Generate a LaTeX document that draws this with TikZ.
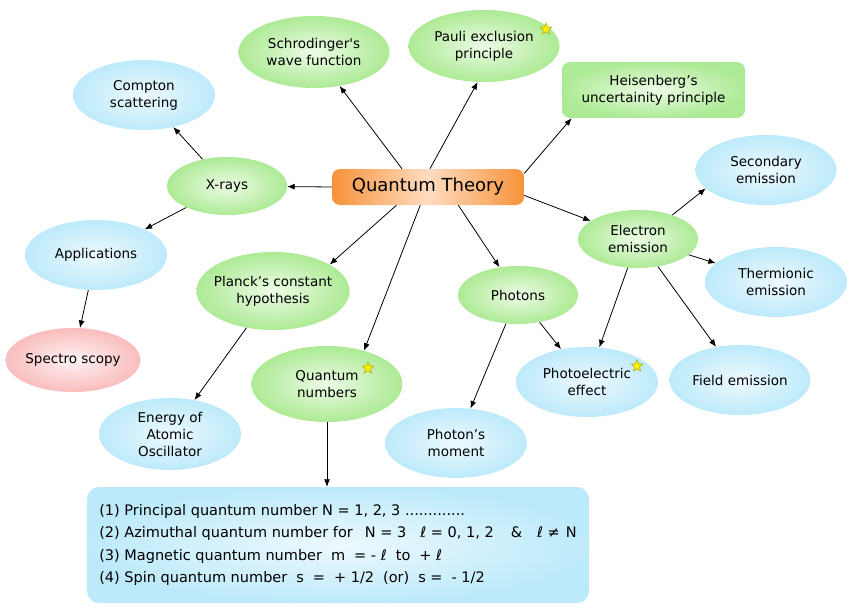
\documentclass[tikz,border=0pt]{standalone}
\usepackage{fontspec}
\setmainfont{DejaVu Sans}
\usetikzlibrary{positioning,arrows.meta,shapes.geometric}
\definecolor{GreenOut}{HTML}{ADEA95}
\definecolor{GreenIn}{HTML}{EDFCE6}
\definecolor{BlueOut}{HTML}{BDEAFA}
\definecolor{BlueIn}{HTML}{EDF9FE}
\definecolor{PinkOut}{HTML}{F9BDBD}
\definecolor{PinkIn}{HTML}{FFF2F2}
\definecolor{TheoryOut}{HTML}{F7923A}
\definecolor{TheoryIn}{HTML}{FFDCC0}
\definecolor{StarLine}{HTML}{A8A000}

\begin{document}
\begin{tikzpicture}[
  x=1pt,y=-1pt,
  font=\fontsize{13.5}{17}\selectfont,
  >=Latex,
  bubble/.style={ellipse,inner sep=0pt,align=center,minimum width=142pt,minimum height=70pt},
  greenbub/.style={bubble,inner color=GreenIn,outer color=GreenOut},
  bluebub/.style={bubble,inner color=BlueIn,outer color=BlueOut},
  pinkbub/.style={bubble,inner color=PinkIn,outer color=PinkOut},
  small/.style={minimum width=120pt,minimum height=58pt},
  large/.style={minimum width=151pt,minimum height=72pt},
  goldstar/.style={star,star points=5,star point ratio=2.2,draw=StarLine,line width=0.5pt,fill=yellow,minimum size=12pt,inner sep=0pt},
  flow/.style={-{Latex[length=7.5pt,width=6pt]},line width=0.8pt}
]
\useasboundingbox (0,0) rectangle (855,610);

% centre
\node[font=\fontsize{18}{20}\selectfont,rounded corners=8pt,minimum width=192pt,minimum height=36pt,
  left color=TheoryOut,right color=TheoryOut,middle color=TheoryIn] (theory) at (428,187) {Quantum Theory};

% upper branches
\node[greenbub,large] (schro) at (314,52) {Schrodinger\textquotesingle s\\wave function};
\node[greenbub,large] (pauli) at (484,46) {Pauli exclusion\\principle};
\node[rounded corners=8pt,minimum width=183pt,minimum height=56pt,align=center,
  inner color=GreenIn,outer color=GreenOut] (heisen) at (653.5,90) {Heisenberg’s\\uncertainity principle};

% X-rays side
\node[greenbub,small] (xrays) at (227,186) {X-rays};
\node[bluebub] (compton) at (144,95) {Compton\\scattering};
\node[bluebub] (applic) at (96,255) {Applications};
\node[pinkbub,minimum width=134pt,minimum height=64pt] (spectro) at (73,360) {Spectro scopy};

% lower branches
\node[greenbub,large,inner xsep=-5pt,minimum height=78pt] (planck) at (273,291) {Planck’s constant\\hypothesis};
\node[bluebub,minimum height=72pt] (energy) at (170,434) {Energy of\\Atomic\\Oscillator};
\node[greenbub,large,minimum height=76pt] (qnum) at (327,384) {Quantum\\numbers};
\node[greenbub,small] (photons) at (518,295) {Photons};
\node[bluebub] (moment) at (456,443) {Photon’s\\moment};
\node[bluebub] (photoel) at (587,382) {Photoelectric\\effect};

% electron emission
\node[greenbub,small] (elemis) at (638,239) {Electron\\emission};
\node[bluebub,minimum width=141pt] (second) at (766,170) {Secondary\\emission};
\node[bluebub] (thermi) at (776,282) {Thermionic\\emission};
\node[bluebub,minimum width=141pt] (field) at (740,380) {Field emission};

% stars
\node[goldstar] (starpauli) at (546,29) {};
\node[goldstar] (starqnum) at (368,368) {};
\node[goldstar] (starphoto) at (637,366) {};

% quantum numbers box
\node[rounded corners=12pt,minimum width=502pt,minimum height=116pt,inner sep=10pt,
  align=left,font=\fontsize{14.5}{22.3}\selectfont,
  inner color=BlueIn,outer color=BlueOut] (qbox) at (338,545)
  {(1) Principal quantum number N = 1, 2, 3 .............\\
   (2) Azimuthal quantum number for\hspace{12pt}N = 3\hspace{14pt}ℓ = 0, 1, 2\hspace{17pt}\&\hspace{15pt}ℓ ≠\hspace{6pt}N\\
   (3) Magnetic quantum number\hspace{9pt}m\hspace{9pt}= - ℓ\hspace{9pt}to\hspace{9pt}+ ℓ\\
   (4) Spin quantum number\hspace{9pt}s\hspace{9pt}=\hspace{9pt}+ 1/2\hspace{9pt}(or)\hspace{9pt}s =\hspace{9pt}- 1/2};

% connectors
\draw[flow] (theory.145) -- (schro);
\draw[flow] (theory.84) -- (pauli.260);
\draw[flow] (theory.8) -- (heisen.199);
\draw[flow] (theory.west) -- (xrays);
\draw[flow] (theory.210) -- (planck.25);
\draw[flow] (theory.247) -- (qnum.42);
\draw[flow] (theory.329) -- (photons);
\draw[flow] (theory.-5) -- (elemis);
\foreach \from/\to in {xrays/compton,xrays/applic,applic/spectro,planck/energy,
  photons/moment,photons/photoel,elemis/photoel,elemis/thermi,elemis/field}
  \draw[flow] (\from) -- (\to);
\draw[flow] (elemis.35) -- (second.197);
\draw[flow] (qnum.south) -- (qnum.south |- qbox.north);
\end{tikzpicture}
\end{document}
